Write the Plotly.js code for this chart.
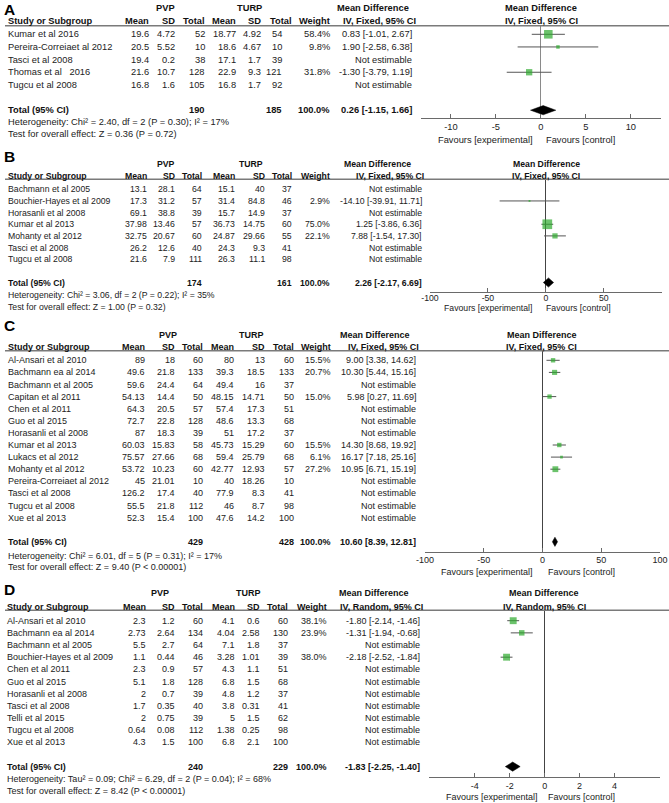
<!DOCTYPE html>
<html><head><meta charset="utf-8">
<script src="https://cdn.plot.ly/plotly-3.0.1.min.js"></script>
<style>html,body{margin:0;padding:0;background:#fff}#chart{width:669px;height:803px}</style>
</head><body><div id="chart"></div>
<script>
// ---------------- DATA ----------------
// Panel A
const studiesA = ["Kumar et al 2016", "Pereira-Correiaet al 2012", "Tasci et al 2008", "Thomas et al\u00a0\u00a0 2016", "Tugcu et al 2008"];
const pvpMeanA = [19.6, 20.5, 19.4, 21.6, 16.8];
const pvpSdA = [4.72, 5.52, 0.2, 10.7, 1.6];
const pvpNA = [52, 10, 38, 128, 105];
const turpMeanA = [18.77, 18.6, 17.1, 22.9, 16.8];
const turpSdA = [4.92, 4.67, 1.7, 9.3, 1.7];
const turpNA = [54, 10, 39, 121, 92];
const weightA = [58.4, 9.8, null, 31.8, null];
const mdA = [0.83, 1.90, null, -1.30, null];
const loA = [-1.01, -2.58, null, -3.79, null];
const hiA = [2.67, 6.38, null, 1.19, null];
const totalA = {pvpN: 190, turpN: 185, md: 0.26, lo: -1.15, hi: 1.66};
const hetA = "Heterogeneity: Chi\u00b2 = 2.40, df = 2 (P = 0.30); I\u00b2 = 17%";
const testA = "Test for overall effect: Z = 0.36 (P = 0.72)";
const methodA = "IV, Fixed, 95% CI";
const ticksA = [-10, -5, 0, 5, 10];

// Panel B
const studiesB = ["Bachmann et al 2005", "Bouchier-Hayes et al 2009", "Horasanli et al 2008", "Kumar et al 2013", "Mohanty et al 2012", "Tasci et al 2008", "Tugcu et al 2008"];
const pvpMeanB = [13.1, 17.3, 69.1, 37.98, 32.75, 26.2, 21.6];
const pvpSdB = [28.1, 31.2, 38.8, 13.46, 20.67, 12.6, 7.9];
const pvpNB = [64, 57, 39, 57, 60, 40, 111];
const turpMeanB = [15.1, 31.4, 15.7, 36.73, 24.87, 24.3, 26.3];
const turpSdB = [40, 84.8, 14.9, 14.75, 29.66, 9.3, 11.1];
const turpNB = [37, 46, 37, 60, 55, 41, 98];
const weightB = [null, 2.9, null, 75.0, 22.1, null, null];
const mdB = [null, -14.10, null, 1.25, 7.88, null, null];
const loB = [null, -39.91, null, -3.86, -1.54, null, null];
const hiB = [null, 11.71, null, 6.36, 17.30, null, null];
const totalB = {pvpN: 174, turpN: 161, md: 2.26, lo: -2.17, hi: 6.69};
const hetB = "Heterogeneity: Chi\u00b2 = 3.06, df = 2 (P = 0.22); I\u00b2 = 35%";
const testB = "Test for overall effect: Z = 1.00 (P = 0.32)";
const methodB = "IV, Fixed, 95% CI";
const ticksB = [-100, -50, 0, 50, 100];

// Panel C
const studiesC = ["Al-Ansari et al 2010", "Bachmann ea al 2014", "Bachmann et al 2005", "Capitan et al 2011", "Chen et al 2011", "Guo et al 2015", "Horasanli et al 2008", "Kumar et al 2013", "Lukacs et al 2012", "Mohanty et al 2012", "Pereira-Correiaet al 2012", "Tasci et al 2008", "Tugcu et al 2008", "Xue et al 2013"];
const pvpMeanC = [89, 49.6, 59.6, 54.13, 64.3, 72.7, 87, 60.03, 75.57, 53.72, 45, 126.2, 55.5, 52.3];
const pvpSdC = [18, 21.8, 24.4, 14.4, 20.5, 22.8, 18.3, 15.83, 27.66, 10.23, 21.01, 17.4, 21.8, 15.4];
const pvpNC = [60, 133, 64, 50, 57, 128, 39, 58, 68, 60, 10, 40, 112, 100];
const turpMeanC = [80, 39.3, 49.4, 48.15, 57.4, 48.6, 51, 45.73, 59.4, 42.77, 40, 77.9, 46, 47.6];
const turpSdC = [13, 18.5, 16, 14.71, 17.3, 13.3, 17.2, 15.29, 25.79, 12.93, 18.26, 8.3, 8.7, 14.2];
const turpNC = [60, 133, 37, 50, 51, 68, 37, 60, 68, 57, 10, 41, 98, 100];
const weightC = [15.5, 20.7, null, 15.0, null, null, null, 15.5, 6.1, 27.2, null, null, null, null];
const mdC = [9.00, 10.30, null, 5.98, null, null, null, 14.30, 16.17, 10.95, null, null, null, null];
const loC = [3.38, 5.44, null, 0.27, null, null, null, 8.68, 7.18, 6.71, null, null, null, null];
const hiC = [14.62, 15.16, null, 11.69, null, null, null, 19.92, 25.16, 15.19, null, null, null, null];
const totalC = {pvpN: 429, turpN: 428, md: 10.60, lo: 8.39, hi: 12.81};
const hetC = "Heterogeneity: Chi\u00b2 = 6.01, df = 5 (P = 0.31); I\u00b2 = 17%";
const testC = "Test for overall effect: Z = 9.40 (P < 0.00001)";
const methodC = "IV, Fixed, 95% CI";
const ticksC = [-100, -50, 0, 50, 100];

// Panel D
const studiesD = ["Al-Ansari et al 2010", "Bachmann ea al 2014", "Bachmann et al 2005", "Bouchier-Hayes et al 2009", "Chen et al 2011", "Guo et al 2015", "Horasanli et al 2008", "Tasci et al 2008", "Telli et al 2015", "Tugcu et al 2008", "Xue et al 2013"];
const pvpMeanD = [2.3, 2.73, 5.5, 1.1, 2.3, 5.1, 2, 1.7, 2, 0.64, 4.3];
const pvpSdD = [1.2, 2.64, 2.7, 0.44, 0.9, 1.8, 0.7, 0.35, 0.75, 0.08, 1.5];
const pvpND = [60, 134, 64, 46, 57, 128, 39, 40, 39, 112, 100];
const turpMeanD = [4.1, 4.04, 7.1, 3.28, 4.3, 6.8, 4.8, 3.8, 5, 1.38, 6.8];
const turpSdD = [0.6, 2.58, 1.8, 1.01, 1.1, 1.5, 1.2, 0.31, 1.5, 0.25, 2.1];
const turpND = [60, 130, 37, 39, 51, 68, 37, 41, 62, 98, 100];
const weightD = [38.1, 23.9, null, 38.0, null, null, null, null, null, null, null];
const mdD = [-1.80, -1.31, null, -2.18, null, null, null, null, null, null, null];
const loD = [-2.14, -1.94, null, -2.52, null, null, null, null, null, null, null];
const hiD = [-1.46, -0.68, null, -1.84, null, null, null, null, null, null, null];
const totalD = {pvpN: 240, turpN: 229, md: -1.83, lo: -2.25, hi: -1.40};
const hetD = "Heterogeneity: Tau\u00b2 = 0.09; Chi\u00b2 = 6.29, df = 2 (P = 0.04); I\u00b2 = 68%";
const testD = "Test for overall effect: Z = 8.42 (P < 0.00001)";
const methodD = "IV, Random, 95% CI";
const ticksD = [-4, -2, 0, 2, 4];

const panelLabels = ["A", "B", "C", "D"];
const groupLabels = ["PVP", "TURP"];
const colHeaders = ["Study or Subgroup", "Mean", "SD", "Total", "Mean", "SD", "Total", "Weight"];
const mdHeader = "Mean Difference";
const favLabels = ["Favours [experimental]", "Favours [control]"];
const totalLabel = "Total (95% CI)";

// ---------------- LAYOUT GEOMETRY (pixels) ----------------
const W = 669, H = 803;
const FONT = "Liberation Sans, Arial, sans-serif";
const GREEN = "#2eaa2e";

const geoms = [
  {y0:34.3, s:12.65, fs:9.3, hdr1:8.4, hdr2:21.3, hline:25.7, letterY:0, letterTop:true, axisY:118, favY:140, hetY:122, testY:134,
   axL:420.7, axR:661, range:[-13.35,13.35], zc:"#8a8a8a", standoff:0,
   cols:{study:7, pvpMean:150, pvpSd:176, pvpN:206, turpMean:237, turpSd:262, turpN:283, weight:331, md:412.7},
   hTurpN:293, pvpC:165, turpC:249, mdH1:373, mdH2:379.5, fcx:541, favExpR:534, favCtlL:545},
  {y0:189.3, s:11.65, fs:8.7, hdr1:164, hdr2:175.7, hline:179.3, letterY:156.5, axisY:291.5, favY:308, hetY:295, testY:306.7,
   axL:430, axR:661.7, range:[-100,100], zc:"#444", standoff:-2,
   cols:{study:7, pvpMean:148.3, pvpSd:175.7, pvpN:202.7, turpMean:236, turpSd:265.7, turpN:292.7, weight:331, md:422.7},
   hTurpN:292.7, pvpC:166, turpC:251, mdH1:377.6, mdH2:389.5, fcx:546, favExpR:533.3, favCtlL:545},
  {y0:360.3, s:12.1, fs:9.0, hdr1:335, hdr2:346.7, hline:350.7, letterY:325, axisY:551.7, favY:571.7, hetY:556, testY:566.7,
   axL:425, axR:660, range:[-100,100], zc:"#444", standoff:-1,
   cols:{study:7.3, pvpMean:146, pvpSd:175.7, pvpN:204, turpMean:235.3, turpSd:265.7, turpN:295, weight:332.3, md:417.3},
   hTurpN:295, pvpC:167.5, turpC:251.7, mdH1:374.7, mdH2:383, fcx:541.7, favExpR:534, favCtlL:546.7},
  {y0:620.7, s:12.16, fs:9.0, hdr1:593.3, hdr2:606.7, hline:610.3, letterY:589, axisY:776.7, favY:797.3, hetY:779, testY:790.7,
   axL:429.3, axR:660, range:[-6.6,6.6], zc:"#444", standoff:0,
   cols:{study:6, pvpMean:146.7, pvpSd:175.7, pvpN:204, turpMean:236, turpSd:260.7, turpN:289.3, weight:328.3, md:420.7},
   hTurpN:289.3, pvpC:160, turpC:248.7, mdH1:374, mdH2:382, fcx:544, favExpR:539.3, favCtlL:546.7}
];

const panels = [
  {studies:studiesA, pvpMean:pvpMeanA, pvpSd:pvpSdA, pvpN:pvpNA, turpMean:turpMeanA, turpSd:turpSdA, turpN:turpNA, weight:weightA, md:mdA, lo:loA, hi:hiA, total:totalA, het:hetA, test:testA, method:methodA, ticks:ticksA},
  {studies:studiesB, pvpMean:pvpMeanB, pvpSd:pvpSdB, pvpN:pvpNB, turpMean:turpMeanB, turpSd:turpSdB, turpN:turpNB, weight:weightB, md:mdB, lo:loB, hi:hiB, total:totalB, het:hetB, test:testB, method:methodB, ticks:ticksB},
  {studies:studiesC, pvpMean:pvpMeanC, pvpSd:pvpSdC, pvpN:pvpNC, turpMean:turpMeanC, turpSd:turpSdC, turpN:turpNC, weight:weightC, md:mdC, lo:loC, hi:hiC, total:totalC, het:hetC, test:testC, method:methodC, ticks:ticksC},
  {studies:studiesD, pvpMean:pvpMeanD, pvpSd:pvpSdD, pvpN:pvpND, turpMean:turpMeanD, turpSd:turpSdD, turpN:turpND, weight:weightD, md:mdD, lo:loD, hi:hiD, total:totalD, het:hetD, test:testD, method:methodD, ticks:ticksD}
];

// ---------------- BUILD ----------------
const traces = [], annotations = [], shapes = [];
const layout = {width:W, height:H, margin:{l:0,r:0,t:0,b:0}, paper_bgcolor:"#fff", plot_bgcolor:"rgba(0,0,0,0)",
  showlegend:false, font:{family:FONT, color:"#222"}};
const fmtCI = (m, l, h) => m.toFixed(2) + " [" + l.toFixed(2) + ", " + h.toFixed(2) + "]";

panels.forEach((d, i) => {
  const g = geoms[i];
  const sfx = i === 0 ? "" : String(i + 1);
  const xr = "x" + sfx, yr = "y" + sfx;
  const n = d.studies.length;
  const rowOf = py => (py - g.y0) / g.s;

  layout["xaxis" + sfx] = {
    domain:[g.axL / W, g.axR / W], range:g.range, anchor:yr, fixedrange:true,
    showline:true, linecolor:"#6a6a6a", linewidth:1, mirror:false,
    ticks:"inside", ticklen:4, tickwidth:1, tickcolor:"#6a6a6a",
    tickmode:"array", tickvals:d.ticks, ticktext:d.ticks.map(String),
    ticklabelstandoff:g.standoff,
    tickfont:{family:FONT, size:g.fs, color:"#222"},
    showgrid:false, zeroline:true, zerolinecolor:g.zc, zerolinewidth:1
  };
  layout["yaxis" + sfx] = {
    domain:[1 - g.axisY / H, 1 - g.hline / H], range:[rowOf(g.axisY), rowOf(g.hline)],
    anchor:xr, visible:false, fixedrange:true, showgrid:false, zeroline:false
  };

  const T = (x, y, text, xanchor, opt) => {
    opt = opt || {};
    annotations.push({
      x: x / W, xref:"paper",
      y: opt.row ? y : 1 - y / H, yref: opt.row ? yr : "paper",
      text: text, xanchor: xanchor, yanchor: opt.top ? "top" : "middle", showarrow:false, borderpad:0,
      font:{family:FONT, size:opt.size || g.fs, color:opt.color || "#222"}
    });
  };
  const c = g.cols;
  const B = s => "<b>" + s + "</b>";

  // panel letter
  T(2.5, g.letterY, B(panelLabels[i]), "left", {size:15.5, color:"#000", top:!!g.letterTop});
  // group headers
  T(g.pvpC, g.hdr1, B(groupLabels[0]), "center", {color:"#111"});
  T(g.turpC, g.hdr1, B(groupLabels[1]), "center", {color:"#111"});
  T(g.mdH1, g.hdr1, B(mdHeader), "center", {color:"#111"});
  T(g.fcx, g.hdr1, B(mdHeader), "center", {color:"#111"});
  // column headers
  T(c.study, g.hdr2, B(colHeaders[0]), "left", {color:"#111"});
  T(c.pvpMean, g.hdr2, B(colHeaders[1]), "right", {color:"#111"});
  T(c.pvpSd, g.hdr2, B(colHeaders[2]), "right", {color:"#111"});
  T(c.pvpN, g.hdr2, B(colHeaders[3]), "right", {color:"#111"});
  T(c.turpMean, g.hdr2, B(colHeaders[4]), "right", {color:"#111"});
  T(c.turpSd, g.hdr2, B(colHeaders[5]), "right", {color:"#111"});
  T(g.hTurpN, g.hdr2, B(colHeaders[6]), "right", {color:"#111"});
  T(c.weight, g.hdr2, B(colHeaders[7]), "right", {color:"#111"});
  T(g.mdH2, g.hdr2, B(d.method), "center", {color:"#111"});
  T(g.fcx, g.hdr2, B(d.method), "center", {color:"#111"});
  // header rule
  shapes.push({type:"line", xref:"paper", yref:"paper", x0:5 / W, x1:1, y0:1 - g.hline / H, y1:1 - g.hline / H,
    line:{color:"#7a7a7a", width:1.5}});

  // study rows
  for (let r = 0; r < n; r++) {
    const o = {row:true};
    T(c.study, r, d.studies[r], "left", o);
    T(c.pvpMean, r, String(d.pvpMean[r]), "right", o);
    T(c.pvpSd, r, String(d.pvpSd[r]), "right", o);
    T(c.pvpN, r, String(d.pvpN[r]), "right", o);
    T(c.turpMean, r, String(d.turpMean[r]), "right", o);
    T(c.turpSd, r, String(d.turpSd[r]), "right", o);
    T(c.turpN, r, String(d.turpN[r]), "right", o);
    if (d.weight[r] != null) T(c.weight, r, d.weight[r].toFixed(1) + "%", "right", o);
    T(c.md, r, d.md[r] != null ? fmtCI(d.md[r], d.lo[r], d.hi[r]) : "Not estimable", "right", o);
  }
  // total row
  const tr = n + 1;
  const ob = {row:true, color:"#111"};
  T(c.study, tr, B(totalLabel), "left", ob);
  T(c.pvpN, tr, B(String(d.total.pvpN)), "right", ob);
  T(c.turpN, tr, B(String(d.total.turpN)), "right", ob);
  T(c.weight, tr, B("100.0%"), "right", ob);
  T(c.md, tr, B(fmtCI(d.total.md, d.total.lo, d.total.hi)), "right", ob);
  T(c.study, g.hetY, d.het, "left");
  T(c.study, g.testY, d.test, "left");

  // favours labels
  T(g.favExpR, g.favY, favLabels[0], "right");
  T(g.favCtlL, g.favY, favLabels[1], "left");

  // CI whiskers and weighted squares
  const cx = [], cy = [], sx = [], sy = [], ss = [];
  for (let r = 0; r < n; r++) {
    if (d.md[r] == null) continue;
    cx.push(d.lo[r], d.hi[r], null); cy.push(r, r, null);
    sx.push(d.md[r]); sy.push(r); ss.push(1.12 * Math.sqrt(d.weight[r]));
  }
  traces.push({type:"scatter", mode:"lines", x:cx, y:cy, xaxis:xr, yaxis:yr, cliponaxis:false,
    line:{color:"#555", width:1}, hoverinfo:"skip"});
  traces.push({type:"scatter", mode:"markers", x:sx, y:sy, xaxis:xr, yaxis:yr, cliponaxis:false,
    marker:{symbol:"square", size:ss, color:GREEN, line:{width:0}}, hoverinfo:"skip"});
  // pooled-effect diamond
  const hh = 4.6 / g.s;
  const t = d.total;
  traces.push({type:"scatter", mode:"lines", fill:"toself", fillcolor:"#000",
    x:[t.lo, t.md, t.hi, t.md, t.lo], y:[tr, tr - hh, tr, tr + hh, tr],
    xaxis:xr, yaxis:yr, line:{color:"#000", width:0.5}, hoverinfo:"skip"});
});

layout.annotations = annotations;
layout.shapes = shapes;
Plotly.newPlot("chart", traces, layout, {staticPlot:true, displayModeBar:false});
</script></body></html>
